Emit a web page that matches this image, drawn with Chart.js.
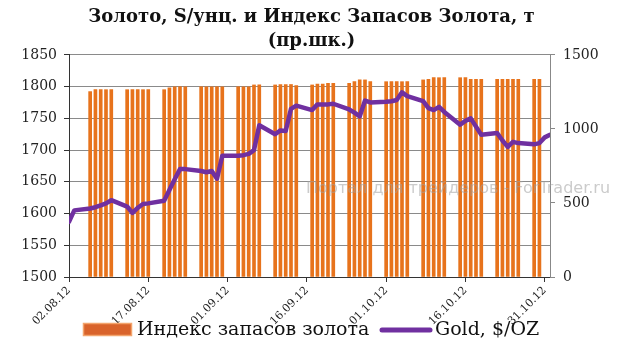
<!DOCTYPE html>
<html><head><meta charset="utf-8">
<script src="https://cdn.jsdelivr.net/npm/chart.js@4.4.1/dist/chart.umd.min.js"></script>
<style>html,body{margin:0;padding:0;background:#fff}#wrap{width:623px;height:357px;position:relative}</style>
</head><body><div id="wrap"><canvas id="c" width="623" height="357"></canvas></div>
<script>
// Trading days (dd.mm.yy)
const dates = [
 '02.08.12','03.08.12','06.08.12','07.08.12','08.08.12','09.08.12','10.08.12','13.08.12','14.08.12','15.08.12','16.08.12','17.08.12','20.08.12','21.08.12','22.08.12','23.08.12','24.08.12','27.08.12','28.08.12','29.08.12','30.08.12','31.08.12',
 '03.09.12','04.09.12','05.09.12','06.09.12','07.09.12','10.09.12','11.09.12','12.09.12','13.09.12','14.09.12','17.09.12','18.09.12','19.09.12','20.09.12','21.09.12','24.09.12','25.09.12','26.09.12','27.09.12','28.09.12',
 '01.10.12','02.10.12','03.10.12','04.10.12','05.10.12','08.10.12','09.10.12','10.10.12','11.10.12','12.10.12','15.10.12','16.10.12','17.10.12','18.10.12','19.10.12','22.10.12','23.10.12','24.10.12','25.10.12','26.10.12','29.10.12','30.10.12','31.10.12',
 '01.11.12'
];
// Gold, $/OZ (left axis)
const gold = [
 1587,1605,1608,1610,1613,1616,1621,1611,1601,1609,1615,1616,1620,1637,1654,1670,1670,1667,1665,1667,1655,1691,
 1691,1692,1694,1700,1739,1725,1731,1730,1765,1770,1763,1772,1772,1772,1773,1764,1759,1753,1778,1775,
 1776,1777,1779,1791,1785,1777,1766,1763,1768,1760,1740,1746,1750,1737,1724,1727,1715,1705,1713,1711,1709,1711,1720,
 1724
];
// Gold stocks index, t (right axis)
const stocks = [
 null,null,1252,1265,1265,1265,1265,1265,1265,1265,1265,1265,1265,1277,1285,1285,1285,1285,1285,1285,1285,1285,
 1285,1285,1285,1297,1297,1297,1300,1300,1300,1292,1297,1302,1302,1308,1308,1308,1319,1331,1331,1319,
 1319,1319,1319,1319,1319,1331,1335,1346,1346,1346,1346,1346,1335,1335,1335,1335,1335,1335,1335,1335,1335,1335,null,
 null
];
const tickLabels = ['02.08.12','17.08.12','01.09.12','16.09.12','01.10.12','16.10.12','31.10.12'];
const axisEnd = '01.11.12';
const leftTicks = [1500,1550,1600,1650,1700,1750,1800,1850];
const rightTicks = [0,500,1000,1500];

const titleLines = ['Золото, S/унц. и Индекс Запасов Золота, т','(пр.шк.)'];
const seriesNames = ['Индекс запасов золота','Gold, $/OZ'];
const watermark = 'Портал для трейдеров - ForTrader.ru';

function dayNum(s){const p=s.split('.');return Date.UTC(2000+ +p[2],+p[1]-1,+p[0])/86400000;}
const d0 = dayNum(dates[0]);
const xs = dates.map(d=>dayNum(d)-d0);
const tickVals = tickLabels.map(d=>dayNum(d)-d0);
const labelByVal = {}; tickVals.forEach((v,i)=>labelByVal[v]=tickLabels[i]);

const BAR='#E7731C', PURPLE='#7030A0';
const serif = "'DejaVu Serif', serif";

const extras = {
  id:'extras',
  afterDraw(chart){
    const ctx=chart.ctx;
    ctx.save();
    const ly=330;
    ctx.fillStyle='#D9632B';
    ctx.fillRect(83,323,49,13);
    ctx.strokeStyle='#F3A46C'; ctx.lineWidth=1.5;
    ctx.strokeRect(83.5,323.5,48,12);
    ctx.font="19px "+serif; ctx.fillStyle='#111'; ctx.textBaseline='middle'; ctx.textAlign='left';
    ctx.fillText(seriesNames[0],137,ly);
    ctx.strokeStyle=PURPLE; ctx.lineWidth=5; ctx.lineCap='round';
    ctx.beginPath(); ctx.moveTo(382,ly); ctx.lineTo(430,ly); ctx.stroke();
    ctx.fillText(seriesNames[1],435,ly);
    ctx.font="16px 'DejaVu Sans', sans-serif"; ctx.fillStyle='rgba(160,160,160,0.55)';
    ctx.fillText(watermark,306,189);
    ctx.restore();
  }
};

new Chart(document.getElementById('c'),{
  type:'bar',
  data:{datasets:[
    {type:'line',label:seriesNames[1],data:xs.map((x,i)=>({x,y:gold[i]})),yAxisID:'y',borderColor:PURPLE,borderWidth:4.5,pointRadius:0,tension:0,order:0,borderJoinStyle:'round',borderCapStyle:'round'},
    {type:'bar',label:seriesNames[0],data:xs.map((x,i)=>({x,y:stocks[i]})).filter(p=>p.y!==null),yAxisID:'y1',backgroundColor:BAR,barThickness:3,order:1}
  ]},
  options:{
    responsive:false,animation:false,
    layout:{padding:{top:0,left:0,right:0,bottom:0}},
    plugins:{
      legend:{display:false},tooltip:{enabled:false},
      title:{display:true,text:titleLines,font:{family:serif,size:18,weight:'bold',lineHeight:1.33},color:'#111',padding:{top:5,bottom:2}}
    },
    scales:{
      x:{type:'linear',offset:false,min:0,max:dayNum(axisEnd)-d0,
        afterBuildTicks(s){s.ticks=tickVals.map(v=>({value:v}));},
        afterFit(s){s.height=80;},
        grid:{offset:false,drawOnChartArea:false,drawTicks:true,tickLength:5,color:'#333'},
        border:{color:'#333',width:1},
        ticks:{autoSkip:false,minRotation:45,maxRotation:45,padding:2,font:{family:serif,size:11},color:'#222',callback:v=>labelByVal[v]||''}
      },
      y:{position:'left',min:1500,max:1850,
        afterBuildTicks(s){s.ticks=leftTicks.map(v=>({value:v}));},
        afterFit(s){s.width=69;},
        grid:{color:'#8a8a8a',lineWidth:1,tickLength:5,tickColor:'#333'},
        border:{color:'#333',width:1},
        ticks:{font:{family:serif,size:14},color:'#222',padding:7,callback:v=>String(v)}
      },
      y1:{position:'right',min:0,max:1500,
        afterBuildTicks(s){s.ticks=rightTicks.map(v=>({value:v}));},
        afterFit(s){s.width=73;},
        grid:{drawOnChartArea:false,tickLength:5,color:'#888'},
        border:{color:'#888',width:1},
        ticks:{font:{family:serif,size:14},color:'#222',padding:8,callback:v=>String(v)}
      }
    }
  },
  plugins:[extras]
});
</script></body></html>
